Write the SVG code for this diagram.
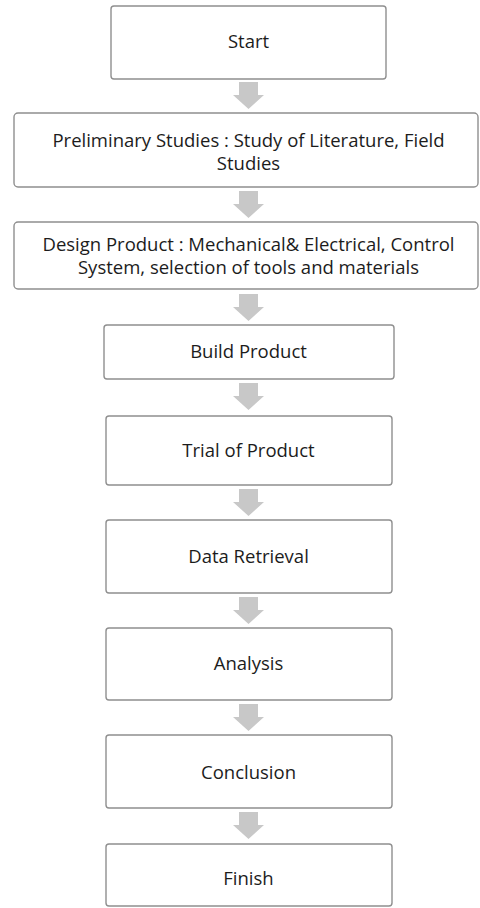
<svg xmlns="http://www.w3.org/2000/svg" width="480" height="908" viewBox="0 0 480 908">
<defs>
<style>
.box{fill:#ffffff;stroke:#8f8f8f;stroke-width:1.4}
.t{font-family:"Open Sans","Liberation Sans",sans-serif;font-size:18.5px;fill:#1c1c1c;text-anchor:middle}
.arr{fill:#c8c8c8}
</style>
<path id="dn" d="M-9.5,0 H9.5 V13 H15.5 L0,27 L-15.5,13 H-9.5 Z"/>
</defs>
<rect width="480" height="908" fill="#ffffff"/>
<g id="connectors">
<use href="#dn" class="arr" x="248.5" y="82"/>
<use href="#dn" class="arr" x="248.5" y="191"/>
<use href="#dn" class="arr" x="248.5" y="294"/>
<use href="#dn" class="arr" x="248.5" y="383"/>
<use href="#dn" class="arr" x="248.5" y="489"/>
<use href="#dn" class="arr" x="248.5" y="597"/>
<use href="#dn" class="arr" x="248.5" y="704"/>
<use href="#dn" class="arr" x="248.5" y="812"/>
</g>
<g id="start"><rect class="box" x="111" y="6" width="275" height="73" rx="3"/><text class="t" x="248.5" y="48">Start</text></g>
<g id="prelim"><rect class="box" x="14" y="113" width="464" height="74" rx="4"/><text class="t" x="248.5" y="147">Preliminary Studies : Study of Literature, Field</text><text class="t" x="248.5" y="170">Studies</text></g>
<g id="design"><rect class="box" x="14" y="222" width="464" height="67" rx="4"/><text class="t" x="248.5" y="251">Design Product : Mechanical&amp; Electrical, Control</text><text class="t" x="248.5" y="274">System, selection of tools and materials</text></g>
<g id="build"><rect class="box" x="104" y="325" width="290" height="54" rx="3"/><text class="t" x="248.5" y="358">Build Product</text></g>
<g id="trial"><rect class="box" x="106" y="416" width="286" height="69" rx="3"/><text class="t" x="248.5" y="457">Trial of Product</text></g>
<g id="data"><rect class="box" x="106" y="520" width="286" height="73" rx="3"/><text class="t" x="248.5" y="563">Data Retrieval</text></g>
<g id="analysis"><rect class="box" x="106" y="628" width="286" height="72" rx="3"/><text class="t" x="248.5" y="670">Analysis</text></g>
<g id="conclusion"><rect class="box" x="106" y="735" width="286" height="73" rx="3"/><text class="t" x="248.5" y="779">Conclusion</text></g>
<g id="finish"><rect class="box" x="106" y="844" width="286" height="62" rx="3"/><text class="t" x="248.5" y="885">Finish</text></g>
</svg>
